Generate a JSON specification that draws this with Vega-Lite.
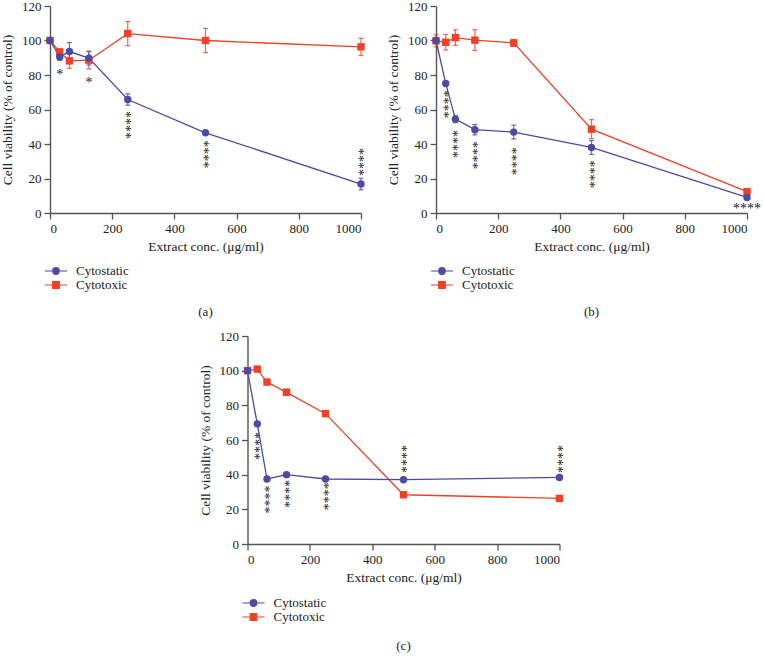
{
  "$schema": "https://vega.github.io/schema/vega-lite/v6.json",
  "padding": {"left": 0, "top": 0, "right": 0, "bottom": 0},
  "background": "white",
  "config": {
    "font": "Liberation Serif",
    "view": {"stroke": null},
    "axis": {"grid": false, "domainColor": "#555", "tickColor": "#555", "domainWidth": 1.4, "tickWidth": 1.3, "tickSize": 6, "labelColor": "#222", "titleColor": "#222", "labelFontSize": 13, "titleFontSize": 13.5, "titleFontWeight": "normal", "labelFont": "Liberation Serif", "titleFont": "Liberation Serif", "labelOverlap": false, "labelPadding": 3},
    "axisX": {"titlePadding": 4},
    "axisY": {"titlePadding": 7},
    "legend": {"labelFont": "Liberation Serif", "labelFontSize": 13, "labelColor": "#222"},
    "title": {"font": "Liberation Serif", "fontSize": 13, "fontWeight": "normal", "color": "#222"}
  },
  "datasets": {
    "vals": [
      {"panel": "a", "series": "Cytotoxic", "conc": 0, "mean": 100, "lo": 98.5, "hi": 101.5},
      {"panel": "a", "series": "Cytotoxic", "conc": 31.25, "mean": 93.4, "lo": 91.9, "hi": 94.9},
      {"panel": "a", "series": "Cytotoxic", "conc": 62.5, "mean": 88.2, "lo": 83.9, "hi": 92.5},
      {"panel": "a", "series": "Cytotoxic", "conc": 125, "mean": 88.6, "lo": 83.6, "hi": 93.6},
      {"panel": "a", "series": "Cytotoxic", "conc": 250, "mean": 104, "lo": 97, "hi": 111},
      {"panel": "a", "series": "Cytotoxic", "conc": 500, "mean": 100, "lo": 93, "hi": 107},
      {"panel": "a", "series": "Cytotoxic", "conc": 1000, "mean": 96.3, "lo": 91.3, "hi": 101.3},
      {"panel": "a", "series": "Cytostatic", "conc": 0, "mean": 100, "lo": 99, "hi": 101},
      {"panel": "a", "series": "Cytostatic", "conc": 31.25, "mean": 90.5, "lo": 88.5, "hi": 92.5},
      {"panel": "a", "series": "Cytostatic", "conc": 62.5, "mean": 93.6, "lo": 88.6, "hi": 98.8},
      {"panel": "a", "series": "Cytostatic", "conc": 125, "mean": 89.8, "lo": 85.8, "hi": 93.8},
      {"panel": "a", "series": "Cytostatic", "conc": 250, "mean": 65.8, "lo": 62.5, "hi": 69.1},
      {"panel": "a", "series": "Cytostatic", "conc": 500, "mean": 46.5, "lo": 45.7, "hi": 47.3},
      {"panel": "a", "series": "Cytostatic", "conc": 1000, "mean": 16.8, "lo": 13.4, "hi": 20.2},
      {"panel": "b", "series": "Cytotoxic", "conc": 0, "mean": 99.8, "lo": 96.3, "hi": 103.3},
      {"panel": "b", "series": "Cytotoxic", "conc": 31.25, "mean": 99, "lo": 94.5, "hi": 103.5},
      {"panel": "b", "series": "Cytotoxic", "conc": 62.5, "mean": 101.7, "lo": 97.2, "hi": 106.2},
      {"panel": "b", "series": "Cytotoxic", "conc": 125, "mean": 100.2, "lo": 94.2, "hi": 106.2},
      {"panel": "b", "series": "Cytotoxic", "conc": 250, "mean": 98.6, "lo": 96.6, "hi": 100.6},
      {"panel": "b", "series": "Cytotoxic", "conc": 500, "mean": 48.6, "lo": 43.1, "hi": 54.1},
      {"panel": "b", "series": "Cytotoxic", "conc": 1000, "mean": 12.4, "lo": 11.2, "hi": 13.6},
      {"panel": "b", "series": "Cytostatic", "conc": 0, "mean": 100, "lo": 99, "hi": 101},
      {"panel": "b", "series": "Cytostatic", "conc": 31.25, "mean": 75.1, "lo": 74.1, "hi": 76.1},
      {"panel": "b", "series": "Cytostatic", "conc": 62.5, "mean": 54.4, "lo": 52.4, "hi": 56.4},
      {"panel": "b", "series": "Cytostatic", "conc": 125, "mean": 48.3, "lo": 45.3, "hi": 51.3},
      {"panel": "b", "series": "Cytostatic", "conc": 250, "mean": 46.9, "lo": 42.9, "hi": 50.9},
      {"panel": "b", "series": "Cytostatic", "conc": 500, "mean": 38, "lo": 34, "hi": 42},
      {"panel": "b", "series": "Cytostatic", "conc": 1000, "mean": 9, "lo": 8, "hi": 10},
      {"panel": "c", "series": "Cytotoxic", "conc": 0, "mean": 100, "lo": 99.5, "hi": 100.5},
      {"panel": "c", "series": "Cytotoxic", "conc": 31.25, "mean": 100.9, "lo": 100.1, "hi": 101.7},
      {"panel": "c", "series": "Cytotoxic", "conc": 62.5, "mean": 93.4, "lo": 92.6, "hi": 94.2},
      {"panel": "c", "series": "Cytotoxic", "conc": 125, "mean": 87.5, "lo": 85.7, "hi": 89.3},
      {"panel": "c", "series": "Cytotoxic", "conc": 250, "mean": 75.2, "lo": 74.4, "hi": 76},
      {"panel": "c", "series": "Cytotoxic", "conc": 500, "mean": 28.4, "lo": 27.6, "hi": 29.2},
      {"panel": "c", "series": "Cytotoxic", "conc": 1000, "mean": 26.3, "lo": 25.5, "hi": 27.1},
      {"panel": "c", "series": "Cytostatic", "conc": 0, "mean": 100, "lo": 99.5, "hi": 100.5},
      {"panel": "c", "series": "Cytostatic", "conc": 31.25, "mean": 69.3, "lo": 68.5, "hi": 70.1},
      {"panel": "c", "series": "Cytostatic", "conc": 62.5, "mean": 37.5, "lo": 36.7, "hi": 38.3},
      {"panel": "c", "series": "Cytostatic", "conc": 125, "mean": 40, "lo": 39.2, "hi": 40.8},
      {"panel": "c", "series": "Cytostatic", "conc": 250, "mean": 37.5, "lo": 37, "hi": 38},
      {"panel": "c", "series": "Cytostatic", "conc": 500, "mean": 37.1, "lo": 36.6, "hi": 37.6},
      {"panel": "c", "series": "Cytostatic", "conc": 1000, "mean": 38.4, "lo": 37.6, "hi": 39.2}
    ],
    "stars": [
      {"panel": "a", "conc": 31.25, "y": 80, "stars": "*", "dir": "h"},
      {"panel": "a", "conc": 125, "y": 75.5, "stars": "*", "dir": "h"},
      {"panel": "a", "conc": 250, "y": 51, "stars": "****", "dir": "v"},
      {"panel": "a", "conc": 500, "y": 34, "stars": "****", "dir": "v"},
      {"panel": "a", "conc": 1000, "y": 29.5, "stars": "****", "dir": "v"},
      {"panel": "b", "conc": 31.25, "y": 63, "stars": "****", "dir": "v"},
      {"panel": "b", "conc": 62.5, "y": 40, "stars": "****", "dir": "v"},
      {"panel": "b", "conc": 125, "y": 33.5, "stars": "****", "dir": "v"},
      {"panel": "b", "conc": 250, "y": 30, "stars": "****", "dir": "v"},
      {"panel": "b", "conc": 500, "y": 22.5, "stars": "****", "dir": "v"},
      {"panel": "b", "conc": 1000, "y": 2.5, "stars": "****", "dir": "h"},
      {"panel": "c", "conc": 31.25, "y": 56.5, "stars": "****", "dir": "v"},
      {"panel": "c", "conc": 62.5, "y": 25.7, "stars": "****", "dir": "v"},
      {"panel": "c", "conc": 125, "y": 29, "stars": "****", "dir": "v"},
      {"panel": "c", "conc": 250, "y": 27.5, "stars": "****", "dir": "v"},
      {"panel": "c", "conc": 500, "y": 49, "stars": "****", "dir": "v"},
      {"panel": "c", "conc": 1000, "y": 49, "stars": "****", "dir": "v"}
    ]
  },
  "resolve": {"scale": {"color": "independent"}, "legend": {"color": "independent"}},
  "center": true,
  "spacing": 11,
  "vconcat": [
    {
      "hconcat": [
        {
          "width": 311, "height": 207,
          "title": {"text": "(a)", "orient": "bottom", "anchor": "middle", "offset": 14},
          "encoding": {"x": {"field": "conc", "type": "quantitative", "scale": {"domain": [0, 1000], "nice": false}, "axis": {"values": [0, 200, 400, 600, 800, 1000], "format": "d", "title": "Extract conc. (μg/ml)"}}},
          "layer": [
            {"data": {"name": "vals"}, "transform": [{"filter": "datum.panel === 'a'"}], "mark": {"type": "errorbar", "ticks": true, "thickness": 1.2, "opacity": 0.8}, "encoding": {"y": {"field": "lo", "type": "quantitative", "scale": {"domain": [0, 120], "nice": false}, "axis": {"values": [0, 20, 40, 60, 80, 100, 120], "tickCount": 7, "title": "Cell viability (% of control)"}}, "y2": {"field": "hi"}, "color": {"field": "series", "type": "nominal", "scale": {"domain": ["Cytostatic", "Cytotoxic"], "range": ["#4b4ba6", "#ee4125"]}}}},
            {"data": {"name": "vals"}, "transform": [{"filter": "datum.panel === 'a'"}], "mark": {"type": "line", "strokeWidth": 1.3}, "encoding": {"y": {"field": "mean", "type": "quantitative", "scale": {"domain": [0, 120], "nice": false}, "axis": {"values": [0, 20, 40, 60, 80, 100, 120], "tickCount": 7, "title": "Cell viability (% of control)"}}, "color": {"field": "series", "type": "nominal"}}},
            {"data": {"name": "vals"}, "transform": [{"filter": "datum.panel === 'a' && datum.series === 'Cytotoxic'"}], "mark": {"type": "point", "shape": "square", "filled": true, "size": 55, "opacity": 1}, "encoding": {"y": {"field": "mean", "type": "quantitative", "scale": {"domain": [0, 120], "nice": false}, "axis": {"values": [0, 20, 40, 60, 80, 100, 120], "tickCount": 7, "title": "Cell viability (% of control)"}}, "color": {"field": "series", "type": "nominal"}}},
            {"data": {"name": "vals"}, "transform": [{"filter": "datum.panel === 'a' && datum.series === 'Cytostatic'"}], "mark": {"type": "point", "shape": "circle", "filled": true, "size": 55, "opacity": 1}, "encoding": {"y": {"field": "mean", "type": "quantitative", "scale": {"domain": [0, 120], "nice": false}, "axis": {"values": [0, 20, 40, 60, 80, 100, 120], "tickCount": 7, "title": "Cell viability (% of control)"}}, "color": {"field": "series", "type": "nominal", "legend": {"title": null, "orient": "none", "legendX": -1, "legendY": 258, "direction": "vertical", "symbolSize": 144, "symbolStrokeWidth": 1.2, "labelOffset": 13, "rowPadding": 0, "encoding": {"symbols": {"shape": {"value": {"expr": "datum.value === 'Cytostatic' ? 'M-1.85,0H1.85M-0.55,0A0.55,0.55 0 1,0 0.55,0A0.55,0.55 0 1,0 -0.55,0' : 'M-1.85,0H1.85M-0.55,-0.55H0.55V0.55H-0.55Z'"}}, "fill": {"value": {"expr": "datum.value === 'Cytostatic' ? '#4b4ba6' : '#ee4125'"}}, "stroke": {"value": {"expr": "datum.value === 'Cytostatic' ? '#4b4ba6' : '#ee4125'"}}, "strokeWidth": {"value": 1.2}, "opacity": {"value": 1}}}}}}},
            {"data": {"name": "stars"}, "transform": [{"filter": "datum.panel === 'a' && datum.dir === 'v'"}], "mark": {"type": "text", "angle": 90, "dy": 3, "fontSize": 14, "color": "#222", "baseline": "middle", "align": "center"}, "encoding": {"y": {"field": "y", "type": "quantitative", "scale": {"domain": [0, 120], "nice": false}, "axis": {"values": [0, 20, 40, 60, 80, 100, 120], "tickCount": 7, "title": "Cell viability (% of control)"}}, "text": {"field": "stars"}}},
            {"data": {"name": "stars"}, "transform": [{"filter": "datum.panel === 'a' && datum.dir === 'h'"}], "mark": {"type": "text", "fontSize": 14, "color": "#222", "baseline": "middle", "align": "center"}, "encoding": {"y": {"field": "y", "type": "quantitative", "scale": {"domain": [0, 120], "nice": false}, "axis": {"values": [0, 20, 40, 60, 80, 100, 120], "tickCount": 7, "title": "Cell viability (% of control)"}}, "text": {"field": "stars"}}}
          ]
        },
        {
          "width": 311, "height": 207,
          "title": {"text": "(b)", "orient": "bottom", "anchor": "middle", "offset": 14},
          "encoding": {"x": {"field": "conc", "type": "quantitative", "scale": {"domain": [0, 1000], "nice": false}, "axis": {"values": [0, 200, 400, 600, 800, 1000], "format": "d", "title": "Extract conc. (μg/ml)"}}},
          "layer": [
            {"data": {"name": "vals"}, "transform": [{"filter": "datum.panel === 'b'"}], "mark": {"type": "errorbar", "ticks": true, "thickness": 1.2, "opacity": 0.8}, "encoding": {"y": {"field": "lo", "type": "quantitative", "scale": {"domain": [0, 120], "nice": false}, "axis": {"values": [0, 20, 40, 60, 80, 100, 120], "tickCount": 7, "title": "Cell viability (% of control)"}}, "y2": {"field": "hi"}, "color": {"field": "series", "type": "nominal", "scale": {"domain": ["Cytostatic", "Cytotoxic"], "range": ["#4b4ba6", "#ee4125"]}}}},
            {"data": {"name": "vals"}, "transform": [{"filter": "datum.panel === 'b'"}], "mark": {"type": "line", "strokeWidth": 1.3}, "encoding": {"y": {"field": "mean", "type": "quantitative", "scale": {"domain": [0, 120], "nice": false}, "axis": {"values": [0, 20, 40, 60, 80, 100, 120], "tickCount": 7, "title": "Cell viability (% of control)"}}, "color": {"field": "series", "type": "nominal"}}},
            {"data": {"name": "vals"}, "transform": [{"filter": "datum.panel === 'b' && datum.series === 'Cytotoxic'"}], "mark": {"type": "point", "shape": "square", "filled": true, "size": 55, "opacity": 1}, "encoding": {"y": {"field": "mean", "type": "quantitative", "scale": {"domain": [0, 120], "nice": false}, "axis": {"values": [0, 20, 40, 60, 80, 100, 120], "tickCount": 7, "title": "Cell viability (% of control)"}}, "color": {"field": "series", "type": "nominal"}}},
            {"data": {"name": "vals"}, "transform": [{"filter": "datum.panel === 'b' && datum.series === 'Cytostatic'"}], "mark": {"type": "point", "shape": "circle", "filled": true, "size": 55, "opacity": 1}, "encoding": {"y": {"field": "mean", "type": "quantitative", "scale": {"domain": [0, 120], "nice": false}, "axis": {"values": [0, 20, 40, 60, 80, 100, 120], "tickCount": 7, "title": "Cell viability (% of control)"}}, "color": {"field": "series", "type": "nominal", "legend": {"title": null, "orient": "none", "legendX": -1, "legendY": 258, "direction": "vertical", "symbolSize": 144, "symbolStrokeWidth": 1.2, "labelOffset": 13, "rowPadding": 0, "encoding": {"symbols": {"shape": {"value": {"expr": "datum.value === 'Cytostatic' ? 'M-1.85,0H1.85M-0.55,0A0.55,0.55 0 1,0 0.55,0A0.55,0.55 0 1,0 -0.55,0' : 'M-1.85,0H1.85M-0.55,-0.55H0.55V0.55H-0.55Z'"}}, "fill": {"value": {"expr": "datum.value === 'Cytostatic' ? '#4b4ba6' : '#ee4125'"}}, "stroke": {"value": {"expr": "datum.value === 'Cytostatic' ? '#4b4ba6' : '#ee4125'"}}, "strokeWidth": {"value": 1.2}, "opacity": {"value": 1}}}}}}},
            {"data": {"name": "stars"}, "transform": [{"filter": "datum.panel === 'b' && datum.dir === 'v'"}], "mark": {"type": "text", "angle": 90, "dy": 3, "fontSize": 14, "color": "#222", "baseline": "middle", "align": "center"}, "encoding": {"y": {"field": "y", "type": "quantitative", "scale": {"domain": [0, 120], "nice": false}, "axis": {"values": [0, 20, 40, 60, 80, 100, 120], "tickCount": 7, "title": "Cell viability (% of control)"}}, "text": {"field": "stars"}}},
            {"data": {"name": "stars"}, "transform": [{"filter": "datum.panel === 'b' && datum.dir === 'h'"}], "mark": {"type": "text", "fontSize": 14, "color": "#222", "baseline": "middle", "align": "center"}, "encoding": {"y": {"field": "y", "type": "quantitative", "scale": {"domain": [0, 120], "nice": false}, "axis": {"values": [0, 20, 40, 60, 80, 100, 120], "tickCount": 7, "title": "Cell viability (% of control)"}}, "text": {"field": "stars"}}}
          ]
        }
      ],
      "spacing": 21,
      "resolve": {"scale": {"color": "independent"}, "legend": {"color": "independent"}}
    },
    {
      "width": 312, "height": 208,
      "title": {"text": "(c)", "orient": "bottom", "anchor": "middle", "offset": 16},
      "encoding": {"x": {"field": "conc", "type": "quantitative", "scale": {"domain": [0, 1000], "nice": false}, "axis": {"values": [0, 200, 400, 600, 800, 1000], "format": "d", "title": "Extract conc. (μg/ml)"}}},
      "layer": [
        {"data": {"name": "vals"}, "transform": [{"filter": "datum.panel === 'c'"}], "mark": {"type": "errorbar", "ticks": true, "thickness": 1.2, "opacity": 0.8}, "encoding": {"y": {"field": "lo", "type": "quantitative", "scale": {"domain": [0, 120], "nice": false}, "axis": {"values": [0, 20, 40, 60, 80, 100, 120], "tickCount": 7, "title": "Cell viability (% of control)"}}, "y2": {"field": "hi"}, "color": {"field": "series", "type": "nominal", "scale": {"domain": ["Cytostatic", "Cytotoxic"], "range": ["#4b4ba6", "#ee4125"]}}}},
        {"data": {"name": "vals"}, "transform": [{"filter": "datum.panel === 'c'"}], "mark": {"type": "line", "strokeWidth": 1.3}, "encoding": {"y": {"field": "mean", "type": "quantitative", "scale": {"domain": [0, 120], "nice": false}, "axis": {"values": [0, 20, 40, 60, 80, 100, 120], "tickCount": 7, "title": "Cell viability (% of control)"}}, "color": {"field": "series", "type": "nominal"}}},
        {"data": {"name": "vals"}, "transform": [{"filter": "datum.panel === 'c' && datum.series === 'Cytotoxic'"}], "mark": {"type": "point", "shape": "square", "filled": true, "size": 55, "opacity": 1}, "encoding": {"y": {"field": "mean", "type": "quantitative", "scale": {"domain": [0, 120], "nice": false}, "axis": {"values": [0, 20, 40, 60, 80, 100, 120], "tickCount": 7, "title": "Cell viability (% of control)"}}, "color": {"field": "series", "type": "nominal"}}},
        {"data": {"name": "vals"}, "transform": [{"filter": "datum.panel === 'c' && datum.series === 'Cytostatic'"}], "mark": {"type": "point", "shape": "circle", "filled": true, "size": 55, "opacity": 1}, "encoding": {"y": {"field": "mean", "type": "quantitative", "scale": {"domain": [0, 120], "nice": false}, "axis": {"values": [0, 20, 40, 60, 80, 100, 120], "tickCount": 7, "title": "Cell viability (% of control)"}}, "color": {"field": "series", "type": "nominal", "legend": {"title": null, "orient": "none", "legendX": -1, "legendY": 260, "direction": "vertical", "symbolSize": 144, "symbolStrokeWidth": 1.2, "labelOffset": 13, "rowPadding": 0, "encoding": {"symbols": {"shape": {"value": {"expr": "datum.value === 'Cytostatic' ? 'M-1.85,0H1.85M-0.55,0A0.55,0.55 0 1,0 0.55,0A0.55,0.55 0 1,0 -0.55,0' : 'M-1.85,0H1.85M-0.55,-0.55H0.55V0.55H-0.55Z'"}}, "fill": {"value": {"expr": "datum.value === 'Cytostatic' ? '#4b4ba6' : '#ee4125'"}}, "stroke": {"value": {"expr": "datum.value === 'Cytostatic' ? '#4b4ba6' : '#ee4125'"}}, "strokeWidth": {"value": 1.2}, "opacity": {"value": 1}}}}}}},
        {"data": {"name": "stars"}, "transform": [{"filter": "datum.panel === 'c' && datum.dir === 'v'"}], "mark": {"type": "text", "angle": 90, "dy": 3, "fontSize": 14, "color": "#222", "baseline": "middle", "align": "center"}, "encoding": {"y": {"field": "y", "type": "quantitative", "scale": {"domain": [0, 120], "nice": false}, "axis": {"values": [0, 20, 40, 60, 80, 100, 120], "tickCount": 7, "title": "Cell viability (% of control)"}}, "text": {"field": "stars"}}},
        {"data": {"name": "stars"}, "transform": [{"filter": "datum.panel === 'c' && datum.dir === 'h'"}], "mark": {"type": "text", "fontSize": 14, "color": "#222", "baseline": "middle", "align": "center"}, "encoding": {"y": {"field": "y", "type": "quantitative", "scale": {"domain": [0, 120], "nice": false}, "axis": {"values": [0, 20, 40, 60, 80, 100, 120], "tickCount": 7, "title": "Cell viability (% of control)"}}, "text": {"field": "stars"}}}
      ]
    }
  ]
}
